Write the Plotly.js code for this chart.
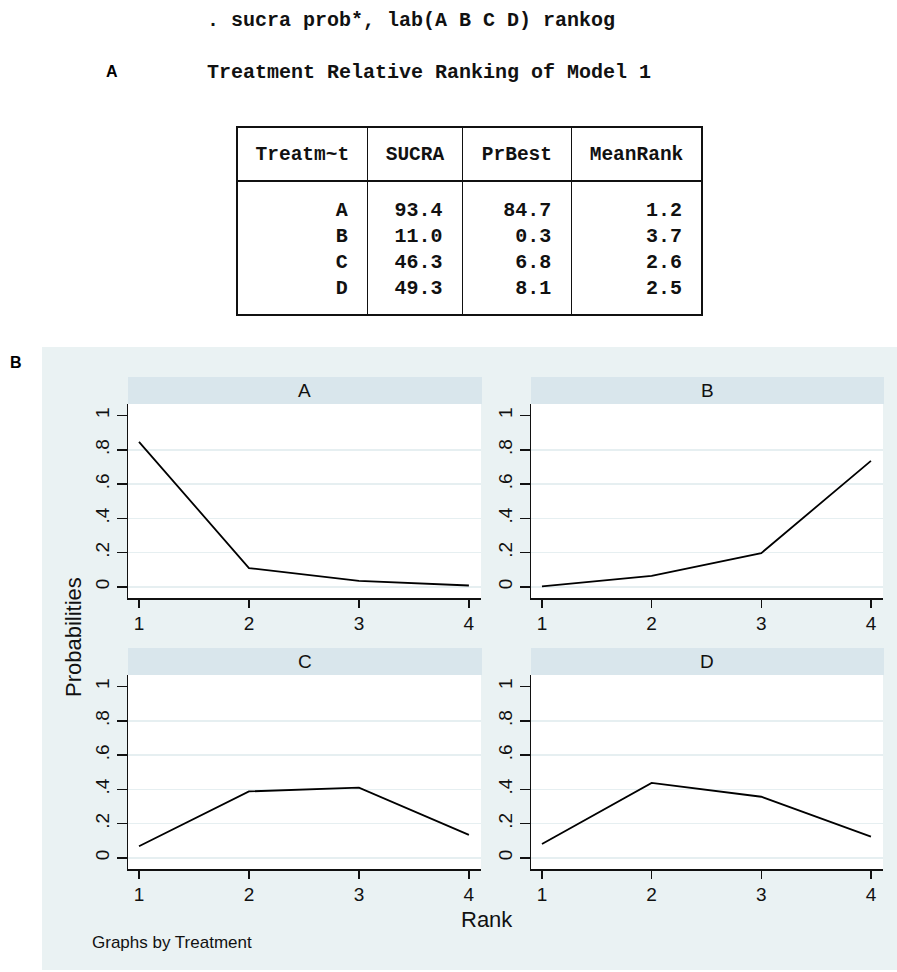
<!DOCTYPE html>
<html>
<head>
<meta charset="utf-8">
<script src="https://cdn.plot.ly/plotly-3.0.1.min.js"></script>
<style>html,body{margin:0;padding:0;background:#fff;}#chart{width:897px;height:972px;}</style>
</head>
<body>
<div id="chart"></div>
<script>
// ---------- data ----------
var commandLine = ". sucra prob*, lab(A B C D) rankog";
var tableTitle = "Treatment Relative Ranking of Model 1";
var tableHeader = ["Treatm~t", "SUCRA", "PrBest", "MeanRank"];
var treatments = ["A", "B", "C", "D"];
var sucra = ["93.4", "11.0", "46.3", "49.3"];
var prBest = ["84.7", "0.3", "6.8", "8.1"];
var meanRank = ["1.2", "3.7", "2.6", "2.5"];

var ranks = [1, 2, 3, 4];
var probA = [0.847, 0.110, 0.035, 0.008];
var probB = [0.003, 0.064, 0.197, 0.736];
var probC = [0.068, 0.388, 0.410, 0.134];
var probD = [0.081, 0.438, 0.357, 0.124];
var probs = [probA, probB, probC, probD];

var yTickVals = [0, 0.2, 0.4, 0.6, 0.8, 1];
var yTickText = ["0", ".2", ".4", ".6", ".8", "1"];
var yGridVals = [0, 0.2, 0.4, 0.6, 0.8];
var xTickVals = [1, 2, 3, 4];

var yTitle = "Probabilities";
var xTitle = "Rank";
var note = "Graphs by Treatment";
var panelLabels = ["A", "B"];

// ---------- layout helpers ----------
var W = 897, H = 972;
function PX(px) { return px / W; }
function PY(py) { return 1 - py / H; }

var BG = "#EAF2F3", STRIP = "#D9E6EC", GRID = "#E6EFF1";
var SANS = "Liberation Sans, Arial, sans-serif";
var MONO = "Liberation Mono, Courier New, monospace";
var INK = "#111";
var NBSP = "\u00A0";

var colX = [[128, 481], [531, 883]];
var rowY = [[404, 598], [675, 869]];
var stripH = 27;

var traces = [];
var layout = {
  width: W, height: H,
  margin: {l: 0, r: 0, t: 0, b: 0},
  paper_bgcolor: "#ffffff",
  plot_bgcolor: "#ffffff",
  showlegend: false,
  shapes: [],
  annotations: []
};

// ---------- table: frame ----------
var colWidths = [131, 95, 109, 131];
traces.push({
  type: "table",
  domain: {x: [PX(237), PX(703)], y: [PY(318), PY(127)]},
  columnwidth: colWidths,
  header: {
    values: tableHeader.map(function () { return ""; }),
    height: 54,
    line: {color: INK, width: 1.5},
    fill: {color: "#ffffff"},
    font: {family: MONO, size: 19, color: INK}
  },
  cells: {
    values: tableHeader.map(function () { return [""]; }),
    height: 134,
    line: {color: INK, width: 1.5},
    fill: {color: "#ffffff"},
    font: {family: MONO, size: 19, color: INK}
  }
});
// ---------- table: text (monospace, right-aligned by padding) ----------
function rightAlignColumn(col) {
  var w = Math.max.apply(null, col.map(function (s) { return s.length; }));
  return col.map(function (s) {
    var p = ""; for (var k = s.length; k < w; k++) p += NBSP;
    return p + s + NBSP;
  });
}
traces.push({
  type: "table",
  domain: {x: [PX(237), PX(703)], y: [PY(318), PY(136)]},
  columnwidth: colWidths,
  header: {
    values: tableHeader.map(function (h) { return "<b>" + h + "</b>"; }),
    align: "center",
    height: 55,
    line: {color: "rgba(0,0,0,0)", width: 0},
    fill: {color: "rgba(0,0,0,0)"},
    font: {family: MONO, size: 19.5, color: INK}
  },
  cells: {
    values: [treatments, sucra, prBest, meanRank].map(function (col) {
      return ["<b>" + rightAlignColumn(col).join("<br>") + "</b>"];
    }),
    align: "right",
    height: 27,
    line: {color: "rgba(0,0,0,0)", width: 0},
    fill: {color: "rgba(0,0,0,0)"},
    font: {family: MONO, size: 20, color: INK}
  }
});

// background of panel B
layout.shapes.push({type: "rect", xref: "paper", yref: "paper", layer: "below",
  x0: PX(42), x1: 1, y0: PY(970), y1: PY(347), fillcolor: BG, line: {width: 0}});

for (var i = 0; i < 4; i++) {
  var r = Math.floor(i / 2), c = i % 2;
  var n = i + 1;
  var xa = "xaxis" + (n === 1 ? "" : n);
  var ya = "yaxis" + (n === 1 ? "" : n);
  var yo = "yaxis" + (n + 4);
  var xs = "x" + (n === 1 ? "" : n);
  var ys = "y" + (n === 1 ? "" : n);
  var yos = "y" + (n + 4);

  layout[xa] = {
    domain: [PX(colX[c][0]), PX(colX[c][1])],
    anchor: ys,
    range: [0.9, 4.11],
    tickvals: xTickVals,
    ticks: "outside", ticklen: 8, tickwidth: 1.5, tickcolor: INK,
    showline: true, linecolor: INK, linewidth: 1.5,
    showgrid: false, zeroline: false,
    tickfont: {family: SANS, size: 19, color: INK}
  };
  layout[ya] = {
    domain: [PY(rowY[r][1]), PY(rowY[r][0])],
    anchor: xs,
    range: [-0.065, 1.068],
    tickvals: yGridVals,
    showticklabels: false, ticks: "",
    showgrid: true, gridcolor: GRID, gridwidth: 1.5,
    showline: false, zeroline: false
  };
  layout[yo] = {
    overlaying: ys,
    anchor: xs,
    side: "left",
    range: [-0.065, 1.068],
    tickvals: yTickVals, ticktext: yTickText,
    tickangle: -90,
    ticks: "outside", ticklen: 10, tickwidth: 1.5, tickcolor: INK,
    ticklabelstandoff: 0,
    showline: true, linecolor: INK, linewidth: 1.5,
    showgrid: false, zeroline: false,
    tickfont: {family: SANS, size: 19, color: INK}
  };

  // white plot area
  layout.shapes.push({type: "rect", xref: xs + " domain", yref: ys + " domain", layer: "below",
    x0: 0, x1: 1, y0: 0, y1: 1, fillcolor: "#ffffff", line: {width: 0}});
  // strip
  layout.shapes.push({type: "rect", xref: "paper", yref: "paper", layer: "below",
    x0: PX(colX[c][0]), x1: PX(colX[c][1] + 1), y0: PY(rowY[r][0]), y1: PY(rowY[r][0] - stripH),
    fillcolor: STRIP, line: {width: 0}});
  layout.annotations.push({xref: "paper", yref: "paper",
    x: (PX(colX[c][0]) + PX(colX[c][1])) / 2, y: PY(rowY[r][0] - stripH / 2),
    xanchor: "center", yanchor: "middle", showarrow: false,
    text: treatments[i], font: {family: SANS, size: 19, color: INK}});

  traces.push({
    type: "scatter", mode: "lines",
    x: ranks, y: probs[i],
    xaxis: xs, yaxis: ys,
    line: {color: "#000", width: 1.8},
    hoverinfo: "skip"
  });
  // empty trace so the tick-label overlay axis is rendered
  traces.push({type: "scatter", mode: "lines", x: [], y: [], xaxis: xs, yaxis: yos, hoverinfo: "skip"});
}

// texts
layout.annotations.push(
  {xref: "paper", yref: "paper", x: PX(205), y: PY(20), xanchor: "left", yanchor: "middle",
   showarrow: false, text: "<b>" + commandLine + "</b>", font: {family: MONO, size: 20, color: INK}},
  {xref: "paper", yref: "paper", x: PX(205), y: PY(73), xanchor: "left", yanchor: "middle",
   showarrow: false, text: "<b>" + tableTitle + "</b>", font: {family: MONO, size: 20, color: INK}},
  {xref: "paper", yref: "paper", x: PX(112), y: PY(71), xanchor: "center", yanchor: "middle",
   showarrow: false, text: "<b>" + panelLabels[0] + "</b>", font: {family: SANS, size: 16, color: "#000"}},
  {xref: "paper", yref: "paper", x: PX(16), y: PY(362), xanchor: "center", yanchor: "middle",
   showarrow: false, text: "<b>" + panelLabels[1] + "</b>", font: {family: SANS, size: 16, color: "#000"}},
  {xref: "paper", yref: "paper", x: PX(73), y: PY(637), xanchor: "center", yanchor: "middle",
   showarrow: false, textangle: -90, text: yTitle, font: {family: SANS, size: 22, color: INK}},
  {xref: "paper", yref: "paper", x: PX(487), y: PY(919), xanchor: "center", yanchor: "middle",
   showarrow: false, text: xTitle, font: {family: SANS, size: 22, color: INK}},
  {xref: "paper", yref: "paper", x: PX(90), y: PY(942), xanchor: "left", yanchor: "middle",
   showarrow: false, text: note, font: {family: SANS, size: 17, color: INK}}
);

Plotly.newPlot("chart", traces, layout, {displayModeBar: false, staticPlot: true});
</script>
</body>
</html>
